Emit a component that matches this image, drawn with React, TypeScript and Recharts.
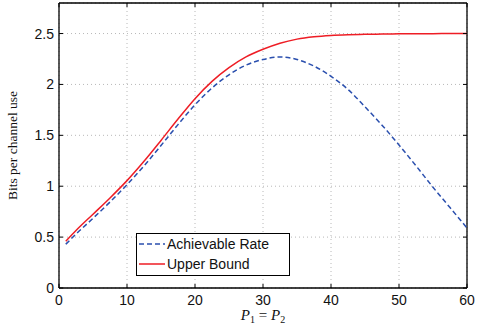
import { CartesianGrid, Legend, Line, LineChart, ReferenceLine, XAxis, YAxis } from 'recharts'

const X_VALUES = [1, 2.5, 5, 7.5, 10, 12.5, 15, 17.5, 20, 22.5, 25, 27.5, 30, 32.5, 35, 37.5, 40, 42.5, 45, 47.5, 50, 52.5, 55, 57.5, 60]
const ACHIEVABLE = [
  0.43, 0.53, 0.685, 0.845, 1.015, 1.2, 1.4, 1.605, 1.8, 1.965, 2.095, 2.19, 2.245, 2.27, 2.245, 2.18, 2.08, 1.95, 1.78,
  1.6, 1.405, 1.2, 0.99, 0.79, 0.59,
]
const UPPER = [
  0.46, 0.565, 0.725, 0.885, 1.055, 1.245, 1.45, 1.66, 1.86, 2.03, 2.165, 2.27, 2.345, 2.405, 2.445, 2.468, 2.481, 2.488,
  2.492, 2.495, 2.497, 2.498, 2.499, 2.4995, 2.5,
]
const X_TICKS = [0, 10, 20, 30, 40, 50, 60]
const Y_TICKS = [0, 0.5, 1, 1.5, 2, 2.5]

const data = X_VALUES.map((x, i) => ({ x, achievable: ACHIEVABLE[i], upper: UPPER[i] }))

const W = 486
const H = 329
const MARGIN = { top: 3, right: 19, left: 0, bottom: 0 }
const Y_AXIS_W = 59
const X_AXIS_H = 41
const PLOT_TOP = MARGIN.top
const PLOT_BOTTOM = H - X_AXIS_H
const PLOT_LEFT = Y_AXIS_W
const PLOT_RIGHT = W - MARGIN.right
const TICK_LEN = 4

const BLUE = '#2a4fae'
const RED = '#ee1d25'
const SANS = '"Liberation Sans", Arial, sans-serif'
const SERIF = '"Liberation Serif", "Times New Roman", serif'

function XTick(props: any) {
  const { x, y, payload } = props
  return (
    <g>
      <line x1={x} x2={x} y1={PLOT_BOTTOM} y2={PLOT_BOTTOM - TICK_LEN} stroke="#000" />
      <line x1={x} x2={x} y1={PLOT_TOP} y2={PLOT_TOP + TICK_LEN} stroke="#000" />
      <text x={x} y={y} dy="0.71em" textAnchor="middle" fontSize={14} fontFamily={SANS} fill="#111">
        {payload.value}
      </text>
    </g>
  )
}

function YTick(props: any) {
  const { x, y, payload } = props
  return (
    <g>
      <line x1={PLOT_LEFT} x2={PLOT_LEFT + TICK_LEN} y1={y} y2={y} stroke="#000" />
      <line x1={PLOT_RIGHT} x2={PLOT_RIGHT - TICK_LEN} y1={y} y2={y} stroke="#000" />
      <text x={x} y={y} dy="0.36em" textAnchor="end" fontSize={14} fontFamily={SANS} fill="#111">
        {payload.value}
      </text>
    </g>
  )
}

function XLabel(props: any) {
  const vb = props.viewBox
  const cx = vb.x + vb.width / 2
  return (
    <text x={cx} y={vb.y + 32} textAnchor="middle" fontSize={15} fontFamily={SERIF} fill="#111">
      <tspan fontStyle="italic">P</tspan>
      <tspan fontSize={10} dy={3}>1</tspan>
      <tspan dy={-3}> = </tspan>
      <tspan fontStyle="italic">P</tspan>
      <tspan fontSize={10} dy={3}>2</tspan>
    </text>
  )
}

function YLabel(props: any) {
  const vb = props.viewBox
  const cx = 17
  const cy = vb.y + vb.height / 2
  return (
    <text
      x={cx}
      y={cy}
      transform={`rotate(-90 ${cx} ${cy})`}
      textAnchor="middle"
      fontSize={13.5}
      fontFamily={SERIF}
      fill="#111"
    >
      Bits per channel use
    </text>
  )
}

const LEGEND_ITEMS = [
  { label: 'Achievable Rate', color: BLUE, dash: '5 3' },
  { label: 'Upper Bound', color: RED, dash: undefined },
]

function LegendBox() {
  return (
    <div
      style={{
        border: '1px solid #000',
        background: '#fff',
        width: 152,
        height: 41,
        fontFamily: SANS,
        fontSize: 14,
        color: '#111',
        boxSizing: 'content-box',
      }}
    >
      {LEGEND_ITEMS.map((it) => (
        <div key={it.label} style={{ display: 'flex', alignItems: 'center', height: 20 }}>
          <svg width={30} height={20} style={{ flexShrink: 0 }}>
            <line x1={2} x2={28} y1={10} y2={10} stroke={it.color} strokeWidth={1.5} strokeDasharray={it.dash} />
          </svg>
          <span style={{ lineHeight: '20px' }}>{it.label}</span>
        </div>
      ))}
    </div>
  )
}

export default function App() {
  return (
    <div style={{ position: 'absolute', left: 0, top: 0, width: W, height: H, background: '#fff' }}>
      <LineChart width={W} height={H} data={data} margin={MARGIN}>
        <CartesianGrid stroke="#b8b8b8" strokeDasharray="1 3" />
        <XAxis
          dataKey="x"
          type="number"
          domain={[0, 60]}
          ticks={X_TICKS}
          height={X_AXIS_H}
          tickSize={0}
          tickMargin={7}
          tick={<XTick />}
          axisLine={{ stroke: '#000', strokeWidth: 1.3 }}
          label={<XLabel />}
          allowDataOverflow
        />
        <YAxis
          type="number"
          domain={[0, 2.8]}
          ticks={Y_TICKS}
          width={Y_AXIS_W}
          tickSize={0}
          tickMargin={5}
          tick={<YTick />}
          axisLine={{ stroke: '#000', strokeWidth: 1.3 }}
          label={<YLabel />}
          allowDataOverflow
        />
        <ReferenceLine y={2.8} stroke="#000" strokeWidth={1.3} />
        <ReferenceLine x={60} stroke="#000" strokeWidth={1.3} />
        <Line
          type="monotone"
          dataKey="achievable"
          stroke={BLUE}
          strokeWidth={1.5}
          strokeDasharray="5 3"
          dot={false}
          isAnimationActive={false}
        />
        <Line type="monotone" dataKey="upper" stroke={RED} strokeWidth={1.5} dot={false} isAnimationActive={false} />
        <Legend
          layout="horizontal"
          verticalAlign="middle"
          align="center"
          content={<LegendBox />}
          wrapperStyle={{ left: 136, top: 233, width: 154, height: 43 }}
        />
      </LineChart>
    </div>
  )
}
